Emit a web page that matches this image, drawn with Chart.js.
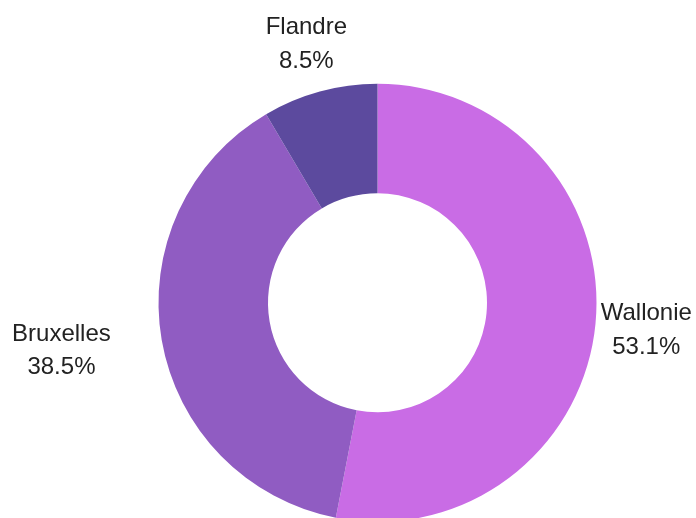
<!DOCTYPE html>
<html>
<head>
<meta charset="utf-8">
<script src="https://cdn.jsdelivr.net/npm/chart.js@4/dist/chart.umd.min.js"></script>
<style>
  html, body { margin: 0; padding: 0; background: #fff; overflow: hidden; }
  #wrap { position: relative; width: 696px; height: 522px; }
</style>
</head>
<body>
<div id="wrap"><canvas id="myChart"></canvas></div>
<script>
const regions = ['Wallonie', 'Bruxelles', 'Flandre'];
const shares = [53.1, 38.5, 8.5];
const sliceColors = ['#c96ce5', '#905cc2', '#5c4a9e'];

// labels outside the ring, two lines: name + percent, centred on the slice's mid angle
const outsideLabels = {
  id: 'outsideLabels',
  afterDatasetsDraw(chart, args, opts) {
    const ctx = chart.ctx;
    const meta = chart.getDatasetMeta(0);
    ctx.save();
    ctx.font = opts.font;
    ctx.fillStyle = opts.color;
    ctx.textAlign = 'center';
    ctx.textBaseline = 'alphabetic';
    meta.data.forEach((arc, i) => {
      const p = arc.getProps(['x', 'y', 'startAngle', 'endAngle', 'outerRadius'], true);
      const mid = (p.startAngle + p.endAngle) / 2;
      const d = p.outerRadius + opts.offset;
      const cx = p.x + Math.cos(mid) * d + (opts.shiftX[i] || 0);
      const cy = p.y + Math.sin(mid) * d;
      const l1 = chart.data.labels[i];
      const l2 = chart.data.datasets[0].data[i].toFixed(1) + '%';
      ctx.fillText(l1, cx, cy - 8.2);
      ctx.fillText(l2, cx, cy - 8.2 + opts.lineGap);
    });
    ctx.restore();
  }
};

const config = {
  type: 'doughnut',
  data: {
    labels: regions,
    datasets: [{
      data: shares,
      backgroundColor: sliceColors,
      borderWidth: 0,
      hoverOffset: 0
    }]
  },
  options: {
    responsive: true,
    maintainAspectRatio: false,
    animation: false,
    cutout: '50%',
    layout: { padding: { top: 83.5, left: 158.5, right: 99.5, bottom: 0 } },
    plugins: {
      legend: { display: false },
      tooltip: { enabled: false },
      outsideLabels: {
        font: '24px "Liberation Sans", Arial, sans-serif',
        color: '#222',
        lineGap: 33.4,
        offset: 51,
        shiftX: [0, -50, 0]
      }
    }
  },
  plugins: [outsideLabels]
};

const myChart = new Chart(document.getElementById('myChart'), config);
</script>
</body>
</html>
